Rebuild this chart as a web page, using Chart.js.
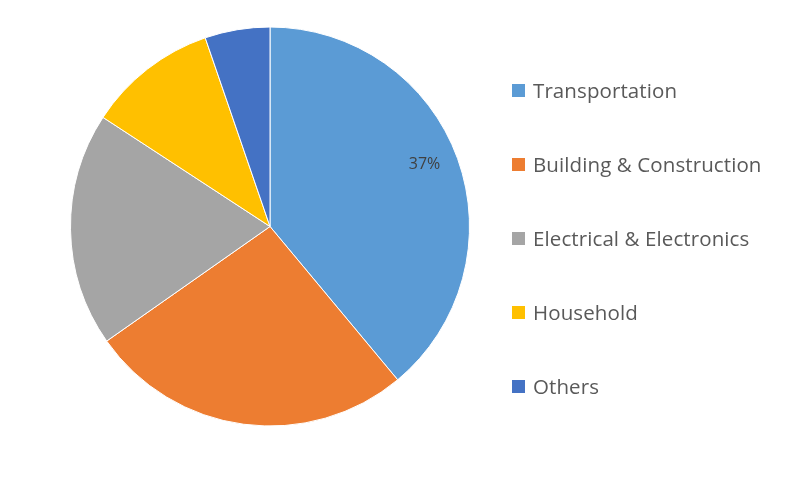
<!DOCTYPE html>
<html lang="en">
<head>
    <meta charset="UTF-8">
    <title>Market Share by Application</title>
    <script src="https://cdn.jsdelivr.net/npm/chart.js"></script>
    <style>
        body { margin: 0; background: #fff; }
        #wrap { position: relative; width: 800px; height: 482px; }
        #pieChart { position: absolute; left: 0; top: 0; }
        #legend { position: absolute; left: 512px; top: 0; margin: 0; padding: 0; list-style: none;
                  font-family: "Open Sans", sans-serif; font-size: 20.5px; color: #595959; letter-spacing: 0.1px; }
        #legend li { position: absolute; white-space: nowrap; display: flex; align-items: center; }
        #legend span.box { display: inline-block; width: 13px; height: 13px; margin-right: 8px; }
    </style>
</head>
<body>
    <div id="wrap">
        <canvas id="pieChart" width="800" height="482"></canvas>
        <ul id="legend"></ul>
    </div>

    <script>
        const categories = ['Transportation', 'Building & Construction', 'Electrical & Electronics', 'Household', 'Others'];
        const shareValues = [37, 25, 18, 10, 5];
        const sliceColors = ['#5B9BD5', '#ED7D31', '#A5A5A5', '#FFC000', '#4472C4'];
        const labelledSlices = [0]; // only the first slice carries a value label

        // draws "37%" inside the slice, using the arc geometry from chart.js
        const sliceLabels = {
            id: 'sliceLabels',
            afterDatasetsDraw(chart) {
                const ctx = chart.ctx;
                const arcs = chart.getDatasetMeta(0).data;
                ctx.save();
                ctx.font = '16px "Open Sans", sans-serif';
                ctx.fillStyle = '#404040';
                ctx.textAlign = 'center';
                ctx.textBaseline = 'middle';
                labelledSlices.forEach(i => {
                    const arc = arcs[i];
                    const mid = (arc.startAngle + arc.endAngle) / 2 - 0.035; // nudge a bit towards the top like excel
                    const r = arc.outerRadius * 0.835;
                    ctx.fillText(shareValues[i] + '%', arc.x + Math.cos(mid) * r, arc.y + Math.sin(mid) * r);
                });
                ctx.restore();
            }
        };

        new Chart(document.getElementById('pieChart'), {
            type: 'pie',
            data: {
                labels: categories,
                datasets: [{
                    data: shareValues,
                    backgroundColor: sliceColors,
                    borderColor: '#ffffff',
                    borderWidth: 1
                }]
            },
            options: {
                responsive: false,
                animation: false,
                layout: { padding: { left: 70, right: 330, top: 26, bottom: 55 } },
                plugins: {
                    legend: { display: false },
                    tooltip: { enabled: false }
                }
            },
            plugins: [sliceLabels]
        });

        // legend rows next to the pie
        const legend = document.getElementById('legend');
        categories.forEach((name, i) => {
            const li = document.createElement('li');
            li.style.top = (76 + i * 74) + 'px';
            li.innerHTML = `<span class="box" style="background:${sliceColors[i]}"></span>${name}`;
            legend.appendChild(li);
        });
    </script>
</body>
</html>
